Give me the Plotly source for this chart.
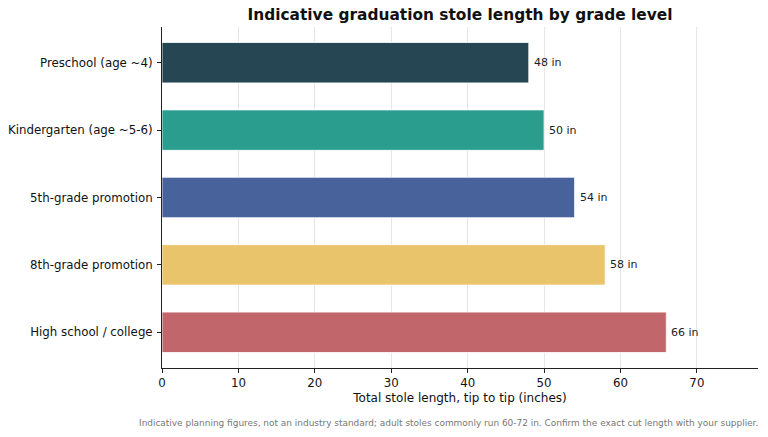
import plotly.graph_objects as go

# Data
grades = [
    "Preschool (age ~4)",
    "Kindergarten (age ~5-6)",
    "5th-grade promotion",
    "8th-grade promotion",
    "High school / college",
]
lengths = [48, 50, 54, 58, 66]
bar_colors = ["#264653", "#2a9d8f", "#48639c", "#e9c46a", "#c1666b"]
value_labels = [f"{v} in" for v in lengths]

fig = go.Figure()

fig.add_trace(go.Bar(
    y=grades,
    x=lengths,
    orientation="h",
    width=0.6,
    marker=dict(color=bar_colors, line=dict(color="white", width=0.8)),
    showlegend=False,
    hoverinfo="x+y",
))

# value labels just past the bar ends
for g, v, lab in zip(grades, lengths, value_labels):
    fig.add_annotation(
        x=v, y=g, text=lab, showarrow=False,
        xanchor="left", yanchor="middle", xshift=3,
        font=dict(size=11, color="#222222"),
    )

fig.update_layout(
    width=768,
    height=437,
    margin=dict(l=162, r=10, t=27, b=69, autoexpand=False),
    paper_bgcolor="white",
    plot_bgcolor="white",
    font=dict(family="DejaVu Sans", size=11.8, color="#111111"),
    title=dict(
        text="<b>Indicative graduation stole length by grade level</b>",
        xref="paper", x=0.5, xanchor="center",
        yref="container", y=1 - 15 / 437, yanchor="middle",
        font=dict(size=15.4, color="#111111"),
    ),
)

fig.update_xaxes(
    range=[0, 78],
    tickvals=[0, 10, 20, 30, 40, 50, 60, 70],
    showgrid=True, gridcolor="#e6e6e6", gridwidth=1,
    showline=True, linecolor="#222222", linewidth=1,
    ticks="outside", ticklen=4, tickcolor="#222222",
    zeroline=False, automargin=False,
    title=dict(text="Total stole length, tip to tip (inches)", font=dict(size=12), standoff=4),
)

fig.update_yaxes(
    categoryorder="array",
    categoryarray=grades,
    autorange=False,
    range=[4.53, -0.53],
    showgrid=False,
    showline=True, linecolor="#222222", linewidth=1,
    ticks="outside", ticklen=4, tickcolor="#222222",
    ticklabelstandoff=2, automargin=False,
)

fig.add_annotation(
    text="Indicative planning figures, not an industry standard; adult stoles commonly run 60-72 in. Confirm the exact cut length with your supplier.",
    xref="paper", yref="paper",
    x=(760 - 162) / 596, y=-55 / 341,
    xanchor="right", yanchor="middle",
    showarrow=False,
    font=dict(size=8.95, color="#777777"),
)

# the page body has a default 8px margin; drop it so the figure sits at 0,0
fig.write_html(
    "out.html",
    config={"displayModeBar": False},
    post_script="document.body.style.margin='0';",
)
